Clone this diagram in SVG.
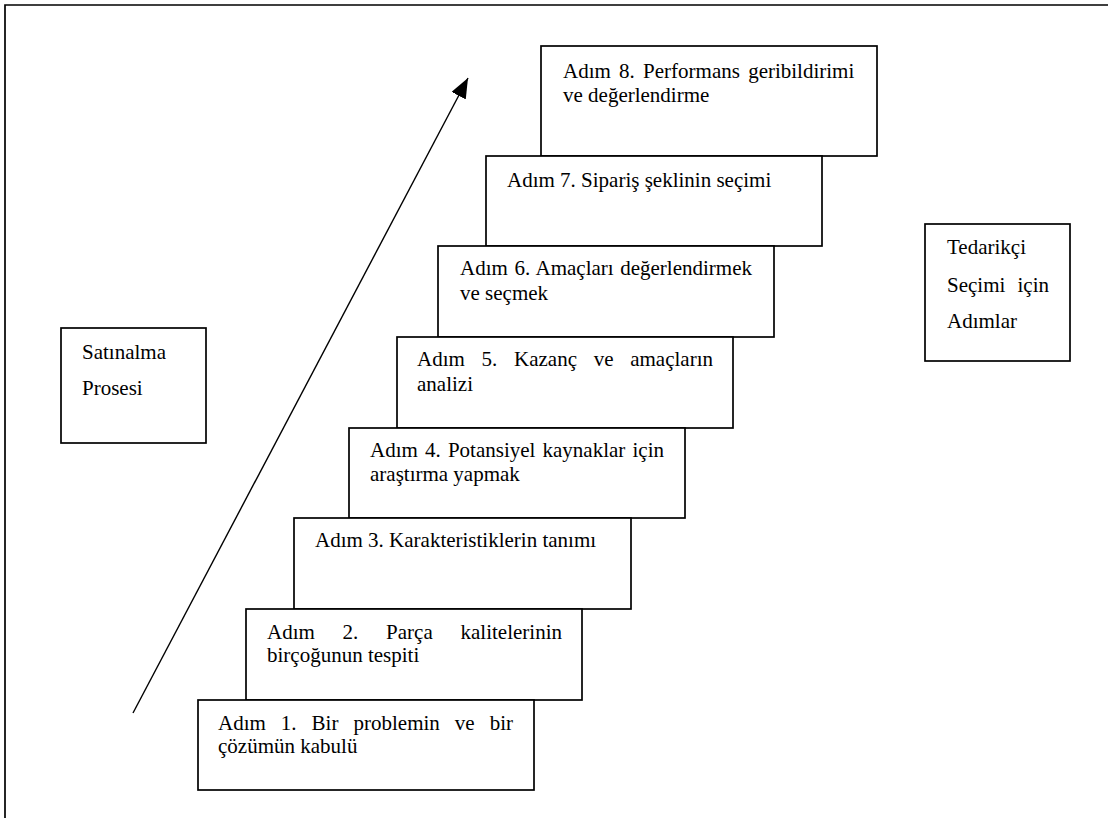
<svg xmlns="http://www.w3.org/2000/svg" width="1108" height="818" viewBox="0 0 1108 818">
  <style>
    .box { fill: #ffffff; stroke: #000000; stroke-width: 1.7; }
    .frame { fill: none; stroke: #000000; stroke-width: 1.7; }
    .t { font-family: "Liberation Serif", "Times New Roman", Times, serif; font-size: 21px; fill: #000000; }
    .end { text-anchor: end; }
    .conn { stroke: #000000; stroke-width: 1.4; fill: none; }
  </style>
  <defs>
    <marker id="arrowHead" viewBox="0 0 20 16" refX="20" refY="8" markerWidth="20" markerHeight="16" markerUnits="userSpaceOnUse" orient="auto">
      <path d="M0,0 L20,8 L0,16 Z" fill="#000000"/>
    </marker>
  </defs>

  <rect width="1108" height="818" fill="#ffffff"/>

  <!-- page frame -->
  <path class="frame" d="M5,818 L5,5 L1108,5"/>

  <!-- side labels -->
  <g id="satinalma-prosesi">
    <rect class="box" x="61" y="328" width="145" height="115"/>
    <text class="t" x="82" y="359">Satınalma</text>
    <text class="t" x="82" y="395">Prosesi</text>
  </g>
  <g id="tedarikci-secimi">
    <rect class="box" x="925" y="224" width="145" height="137"/>
    <text class="t" x="947" y="254">Tedarikçi</text>
    <text class="t" x="947" y="292">Seçimi</text>
    <text class="t end" x="1049" y="292">için</text>
    <text class="t" x="947" y="328">Adımlar</text>
  </g>

  <!-- staircase of steps, drawn top to bottom so lower steps overlap upper ones -->
  <g id="adim-8">
    <rect class="box" x="541" y="46" width="336" height="110"/>
    <text class="t" x="563" y="78" word-spacing="3">Adım 8. Performans geribildirimi</text>
    <text class="t" x="563" y="102">ve değerlendirme</text>
  </g>
  <g id="adim-7">
    <rect class="box" x="486" y="156" width="336" height="90"/>
    <text class="t" x="507" y="187">Adım 7. Sipariş şeklinin seçimi</text>
  </g>
  <g id="adim-6">
    <rect class="box" x="438" y="246" width="336" height="91"/>
    <text class="t" x="460" y="275" word-spacing="1.3">Adım 6. Amaçları değerlendirmek</text>
    <text class="t" x="460" y="300">ve seçmek</text>
  </g>
  <g id="adim-5">
    <rect class="box" x="397" y="337" width="336" height="91"/>
    <text class="t" x="417" y="366">Adım</text>
    <text class="t" x="481.5" y="366">5.</text>
    <text class="t" x="514" y="366">Kazanç</text>
    <text class="t" x="593.7" y="366">ve</text>
    <text class="t end" x="713" y="366">amaçların</text>
    <text class="t" x="417" y="391">analizi</text>
  </g>
  <g id="adim-4">
    <rect class="box" x="349" y="428" width="336" height="90"/>
    <text class="t" x="370" y="457" word-spacing="1.9">Adım 4. Potansiyel kaynaklar için</text>
    <text class="t" x="370" y="481">araştırma yapmak</text>
  </g>
  <g id="adim-3">
    <rect class="box" x="294" y="518" width="337" height="91"/>
    <text class="t" x="315" y="547">Adım 3. Karakteristiklerin tanımı</text>
  </g>
  <g id="adim-2">
    <rect class="box" x="246" y="609" width="336" height="91"/>
    <text class="t" x="267" y="639">Adım</text>
    <text class="t" x="342.6" y="639">2.</text>
    <text class="t" x="386.1" y="639">Parça</text>
    <text class="t end" x="562" y="639">kalitelerinin</text>
    <text class="t" x="267" y="662">birçoğunun tespiti</text>
  </g>
  <g id="adim-1">
    <rect class="box" x="198" y="700" width="336" height="90"/>
    <text class="t" x="218" y="730">Adım</text>
    <text class="t" x="280.8" y="730">1.</text>
    <text class="t" x="311.6" y="730">Bir</text>
    <text class="t" x="353.5" y="730">problemin</text>
    <text class="t" x="454.8" y="730">ve</text>
    <text class="t end" x="513" y="730">bir</text>
    <text class="t" x="218" y="753">çözümün kabulü</text>
  </g>

  <!-- rising arrow along the steps -->
  <g id="connectors">
    <line class="conn" x1="133" y1="713" x2="468" y2="78" marker-end="url(#arrowHead)"/>
  </g>
</svg>
